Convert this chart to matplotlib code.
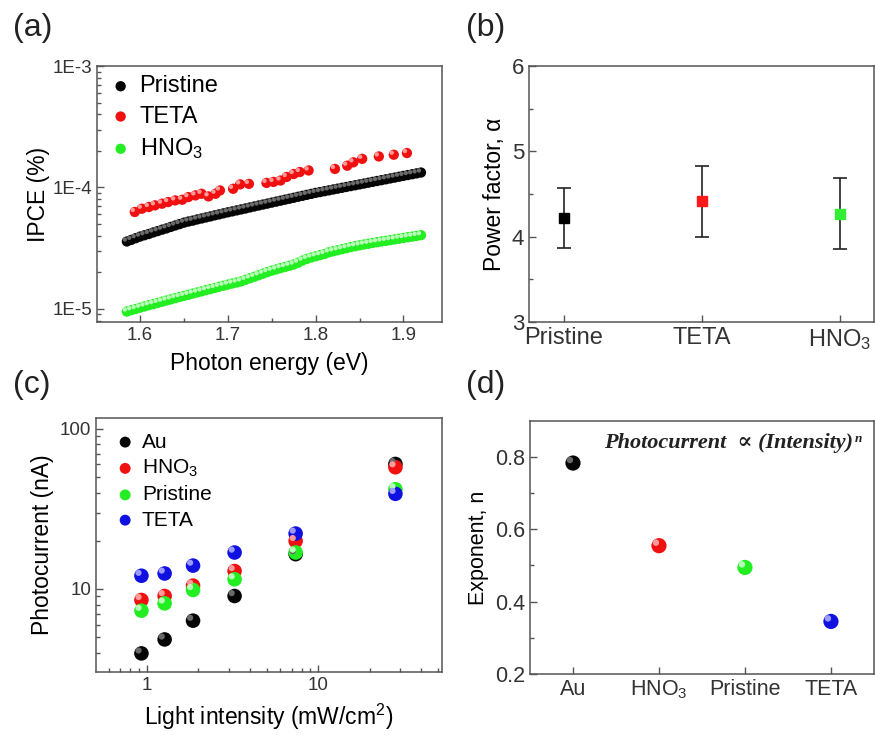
import numpy as np
import matplotlib.pyplot as plt
from matplotlib.ticker import FixedLocator, NullFormatter, LogLocator, MultipleLocator
from matplotlib.transforms import offset_copy

plt.rcParams['font.family'] = ['Liberation Sans', 'DejaVu Sans']
plt.rcParams['mathtext.fontset'] = 'custom'
plt.rcParams['mathtext.rm'] = 'Liberation Sans'
plt.rcParams['mathtext.it'] = 'Liberation Sans:italic'
plt.rcParams['mathtext.bf'] = 'Liberation Sans:bold'

# ---- (a) IPCE vs photon energy ----
energy = [1.585, 1.590, 1.595, 1.600, 1.605, 1.610, 1.615, 1.620, 1.625, 1.630,
          1.635, 1.640, 1.645, 1.650, 1.655, 1.660, 1.665, 1.670, 1.675, 1.680,
          1.685, 1.690, 1.695, 1.700, 1.705, 1.710, 1.715, 1.720, 1.725, 1.730,
          1.735, 1.740, 1.745, 1.750, 1.755, 1.760, 1.765, 1.770, 1.775, 1.780,
          1.785, 1.790, 1.795, 1.800, 1.805, 1.810, 1.815, 1.820, 1.825, 1.830,
          1.835, 1.840, 1.845, 1.850, 1.855, 1.860, 1.865, 1.870, 1.875, 1.880,
          1.885, 1.890, 1.895, 1.900, 1.905, 1.910, 1.915, 1.920]
# values in units of 1E-5 %
ipce_pristine = [3.59, 3.70, 3.82, 3.94, 4.04, 4.14, 4.26, 4.37, 4.49, 4.60,
                 4.73, 4.86, 4.99, 5.13, 5.24, 5.33, 5.45, 5.55, 5.66, 5.77,
                 5.89, 6.00, 6.12, 6.24, 6.35, 6.47, 6.59, 6.71, 6.84, 6.97,
                 7.10, 7.23, 7.36, 7.50, 7.64, 7.78, 7.93, 8.07, 8.22, 8.38,
                 8.53, 8.69, 8.85, 9.02, 9.16, 9.31, 9.46, 9.62, 9.77, 9.93,
                 10.09, 10.26, 10.42, 10.59, 10.76, 10.94, 11.12, 11.30, 11.48, 11.67,
                 11.86, 12.05, 12.25, 12.45, 12.65, 12.85, 13.06, 13.27]
ipce_hno3 = [0.951, 0.975, 0.998, 1.023, 1.047, 1.072, 1.094, 1.119, 1.146, 1.172,
             1.197, 1.225, 1.253, 1.279, 1.306, 1.337, 1.365, 1.393, 1.426, 1.455,
             1.486, 1.521, 1.552, 1.585, 1.618, 1.648, 1.683, 1.734, 1.786, 1.837,
             1.892, 1.950, 2.009, 2.065, 2.113, 2.163, 2.213, 2.265, 2.317, 2.400,
             2.500, 2.580, 2.650, 2.710, 2.770, 2.830, 2.920, 2.980, 3.040, 3.100,
             3.160, 3.228, 3.281, 3.334, 3.388, 3.436, 3.491, 3.540, 3.589, 3.631,
             3.681, 3.733, 3.784, 3.837, 3.890, 3.936, 3.990, 4.046]
energy_teta = [1.594, 1.602, 1.610, 1.617, 1.625, 1.632, 1.640, 1.648, 1.655, 1.663,
               1.670, 1.678, 1.686, 1.691, 1.706, 1.714, 1.724, 1.744, 1.752, 1.760,
               1.767, 1.775, 1.782, 1.792, 1.822, 1.836, 1.843, 1.853, 1.872, 1.889,
               1.904]
ipce_teta = [6.28, 6.68, 6.90, 7.12, 7.35, 7.58, 7.82, 7.92, 8.33, 8.60,
             8.87, 8.44, 8.87, 9.45, 9.75, 10.6, 10.7, 10.9, 11.1, 11.4,
             12.2, 12.9, 13.4, 13.8, 14.2, 15.1, 16.1, 17.2, 18.0, 18.6,
             19.2]

# ---- (b) power factor ----
pf_labels = ['Pristine', 'TETA', 'HNO$_3$']
pf_value = [4.22, 4.42, 4.27]
pf_upper = [4.57, 4.83, 4.69]
pf_lower = [3.87, 4.00, 3.86]
pf_colors = ['#000000', '#ff1a1a', '#33ee33']

# ---- (c) photocurrent vs light intensity ----
intensity = [0.93, 1.27, 1.86, 3.25, 7.38, 28.2]
pc_au = [3.96, 4.84, 6.34, 9.04, 16.5, 60.4]
pc_hno3 = [8.54, 9.04, 10.5, 12.95, 19.95, 57.6]
pc_pristine = [7.32, 8.13, 9.86, 11.5, 16.9, 42.0]
pc_teta = [12.1, 12.5, 14.0, 16.9, 22.2, 39.3]

# ---- (d) exponent ----
exp_labels = ['Au', 'HNO$_3$', 'Pristine', 'TETA']
exp_value = [0.782, 0.554, 0.494, 0.345]

c_black, c_red, c_green, c_blue = '#050505', '#f01010', '#22ee22', '#1010e0'
hl = {c_black: '#6a6a6a', c_red: '#ff9a9a', c_green: '#b8ffb8', c_blue: '#9a9aff'}

fig = plt.figure(figsize=(8.75, 7.35), dpi=100)
axa = fig.add_axes([0.1109, 0.5619, 0.3943, 0.3483])
axb = fig.add_axes([0.6046, 0.5619, 0.3943, 0.3483])
axc = fig.add_axes([0.1097, 0.0857, 0.3954, 0.3456])
axd = fig.add_axes([0.6057, 0.0830, 0.3931, 0.3442])


def balls(ax, x, y, color, s, label=None):
    ax.scatter(x, y, s=s, color=color, edgecolors='none', label=label, zorder=3)
    d = np.sqrt(s) * 0.2
    tr = offset_copy(ax.transData, fig=fig, x=-d, y=d, units='points')
    ax.scatter(x, y, s=s * 0.18, color=hl[color], edgecolors='none',
               transform=tr, zorder=4)


def style(ax, size):
    for sp in ax.spines.values():
        sp.set_color('#555555')
        sp.set_linewidth(1.1)
    ax.tick_params(which='both', direction='in', colors='#555555',
                   labelcolor='#333333', labelsize=size, width=1.0)
    ax.tick_params(which='major', length=5)
    ax.tick_params(which='minor', length=3)


# (a)
ea = np.array(energy)
balls(axa, ea, np.array(ipce_pristine) * 1e-5, c_black, 55, 'Pristine')
balls(axa, np.array(energy_teta), np.array(ipce_teta) * 1e-5, c_red, 55, 'TETA')
balls(axa, ea, np.array(ipce_hno3) * 1e-5, c_green, 55, 'HNO$_3$')
axa.set_yscale('log')
axa.set_ylim(7.8e-6, 1e-3)
axa.set_xlim(1.551, 1.944)
axa.yaxis.set_major_locator(FixedLocator([1e-5, 1e-4, 1e-3]))
axa.set_yticklabels(['1E-5', '1E-4', '1E-3'])
axa.yaxis.set_minor_locator(LogLocator(subs=np.arange(2, 10)))
axa.yaxis.set_minor_formatter(NullFormatter())
axa.xaxis.set_major_locator(MultipleLocator(0.1))
axa.xaxis.set_minor_locator(MultipleLocator(0.05))
style(axa, 13.5)
axa.set_xlabel('Photon energy (eV)', fontsize=16.5, labelpad=6)
axa.set_ylabel('IPCE (%)', fontsize=16.5, labelpad=2)
axa.legend(loc='upper left', frameon=False, fontsize=17, handletextpad=0.2,
           borderaxespad=0.1, labelspacing=0.35, scatterpoints=1,
           borderpad=0.3, handlelength=1.2)

# (b)
xb = np.arange(len(pf_labels))
v = np.array(pf_value)
axb.errorbar(xb, v, yerr=[v - np.array(pf_lower), np.array(pf_upper) - v],
             fmt='none', ecolor='#222222', elinewidth=1.2, capsize=5, capthick=1.2,
             zorder=2)
for xi, yi, col in zip(xb, pf_value, pf_colors):
    axb.plot(xi, yi, 's', color=col, markersize=7, zorder=3)
axb.set_xlim(-0.25, 2.25)
axb.set_ylim(3, 6)
axb.set_xticks(xb)
axb.set_xticklabels(pf_labels, fontsize=17)
axb.yaxis.set_major_locator(MultipleLocator(1))
axb.yaxis.set_minor_locator(MultipleLocator(0.5))
style(axb, 16)
axb.tick_params(axis='x', labelsize=17)
axb.set_ylabel('Power factor, α', fontsize=16.5, labelpad=4)

# (c)
balls(axc, intensity, pc_au, c_black, 110, 'Au')
balls(axc, intensity, pc_hno3, c_red, 110, 'HNO$_3$')
balls(axc, intensity, pc_pristine, c_green, 110, 'Pristine')
balls(axc, intensity, pc_teta, c_blue, 110, 'TETA')
axc.set_xscale('log')
axc.set_yscale('log')
axc.set_xlim(0.505, 52.7)
axc.set_ylim(3.03, 117)
axc.xaxis.set_major_locator(FixedLocator([1, 10]))
axc.set_xticklabels(['1', '10'])
axc.yaxis.set_major_locator(FixedLocator([10, 100]))
axc.set_yticklabels(['10', '100'])
for axis in (axc.xaxis, axc.yaxis):
    axis.set_minor_locator(LogLocator(subs=np.arange(2, 10)))
    axis.set_minor_formatter(NullFormatter())
style(axc, 13.5)
axc.set_xlabel('Light intensity (mW/cm$^2$)', fontsize=16.5, labelpad=6)
axc.set_ylabel('Photocurrent (nA)', fontsize=16.5, labelpad=4)
axc.legend(loc='upper left', frameon=False, fontsize=15, handletextpad=0.1,
           borderaxespad=0.3, labelspacing=0.3, scatterpoints=1,
           borderpad=0.4, handlelength=1.4, markerscale=0.75)

# (d)
xd = np.arange(len(exp_labels))
for xi, yi, col in zip(xd, exp_value, [c_black, c_red, c_green, c_blue]):
    balls(axd, [xi], [yi], col, 120)
axd.set_xlim(-0.5, 3.5)
axd.set_ylim(0.2, 0.898)
axd.set_xticks(xd)
axd.set_xticklabels(exp_labels)
axd.yaxis.set_major_locator(MultipleLocator(0.2))
axd.yaxis.set_minor_locator(MultipleLocator(0.1))
style(axd, 15.5)
axd.set_ylabel('Exponent, n', fontsize=15.5, labelpad=4)
eq = axd.text(0.94, 0.915, 'Photocurrent  ∝ (Intensity)', transform=axd.transAxes,
              ha='right', va='center', fontsize=16, fontstyle='italic',
              fontweight='bold', family=['Liberation Serif', 'DejaVu Serif'],
              color='#222222')
axd.annotate('n', xy=(1.0, 1.0), xycoords=eq, xytext=(1, 0), textcoords='offset points',
             ha='left', va='top', fontsize=9.5, fontstyle='italic', fontweight='bold',
             family=['Liberation Serif', 'DejaVu Serif'], color='#222222')

for lab, x, y in [('(a)', 0.015, 0.982), ('(b)', 0.532, 0.982),
                  ('(c)', 0.015, 0.497), ('(d)', 0.532, 0.497)]:
    fig.text(x, y, lab, fontsize=23, ha='left', va='top', color='#222222')

fig.savefig('out.png', dpi=100)
